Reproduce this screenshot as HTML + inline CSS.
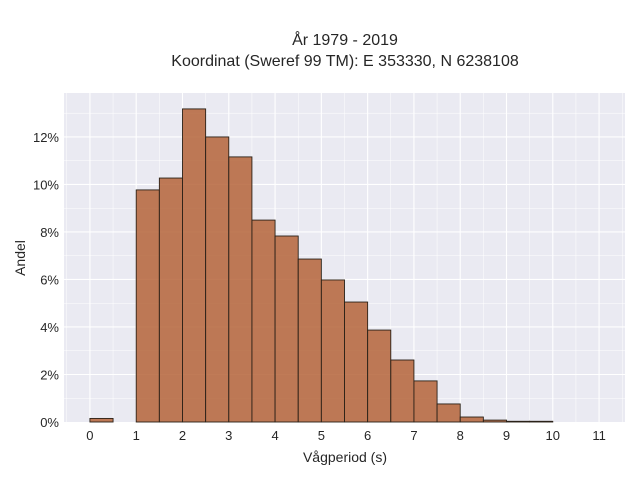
<!DOCTYPE html>
<html><head><meta charset="utf-8"><style>
body{margin:0;background:#fff;}
svg{display:block;font-family:"Liberation Sans",sans-serif;}
</style></head><body>
<svg id="chart" width="640" height="480" viewBox="0 0 640 480">
<rect width="640" height="480" fill="#fff"/>
<text x="345" y="45" text-anchor="middle" font-size="16" fill="#262626">År 1979 - 2019</text>
<text x="345" y="66" text-anchor="middle" font-size="16" fill="#262626">Koordinat (Sweref 99 TM): E 353330, N 6238108</text>
<rect x="64" y="93" width="561" height="329" fill="#eaeaf2"/>
<g id="grid"></g>
<g id="bars"></g>
<g id="ticks"></g>
<text x="345" y="462" text-anchor="middle" font-size="14" fill="#262626">Vågperiod (s)</text>
<text x="0" y="0" transform="translate(25,258) rotate(-90)" text-anchor="middle" font-size="14" fill="#262626">Andel</text>
</svg>
<script>
const binStarts=[0,1,1.5,2,2.5,3,3.5,4,4.5,5,5.5,6,6.5,7,7.5,8,8.5,9,9.5];
const shares=[0.15,9.77,10.27,13.18,12.0,11.16,8.5,7.83,6.86,5.98,5.05,3.87,2.61,1.73,0.76,0.21,0.08,0.03,0.03];
const binWidth=0.5;
const xTicks=[0,1,2,3,4,5,6,7,8,9,10,11];
const yTicks=[0,2,4,6,8,10,12];
const L=64,R=625,T=93,B=422;
const xMin=-0.56,xMax=11.56,yMin=0,yMax=13.85;
function xs(v){return L+(v-xMin)/(xMax-xMin)*(R-L);}
function ys(v){return B-(v-yMin)/(yMax-yMin)*(B-T);}
const NS="http://www.w3.org/2000/svg";
const grid=document.getElementById('grid'),bars=document.getElementById('bars'),ticks=document.getElementById('ticks');
function mk(tag,attrs,parent){const e=document.createElementNS(NS,tag);for(const k in attrs)e.setAttribute(k,attrs[k]);parent.appendChild(e);return e;}
for(let v=-0.5;v<=11.5;v+=0.5){
 const major=Number.isInteger(v);
 const g=mk('line',{x1:xs(v),x2:xs(v),y1:T,y2:B,stroke:'#fff','stroke-width':major?1.1:0.5},grid);
 
 
}
for(let v=1;v<=13;v+=1){
 const major=v%2===0;
 const g=mk('line',{x1:L,x2:R,y1:ys(v),y2:ys(v),stroke:'#fff','stroke-width':major?1.1:0.5},grid);
 
 
}
shares.forEach((s,i)=>{
 const x0=xs(binStarts[i]),x1=xs(binStarts[i]+binWidth);
 const r=mk('rect',{x:x0,y:ys(s),width:x1-x0,height:ys(0)-ys(s),fill:'#b5643a','fill-opacity':0.85,stroke:'#2a2118','stroke-width':0.9},bars);
 
 
});
xTicks.forEach(v=>{
 const t=mk('text',{x:xs(v),y:B+18,'text-anchor':'middle','font-size':13,fill:'#262626'},ticks);
 t.textContent=v;
 
 
});
yTicks.forEach(v=>{
 const t=mk('text',{x:L-5,y:ys(v)+5,'text-anchor':'end','font-size':13,fill:'#262626'},ticks);
 t.textContent=v+'%';
 
 
});
</script>
</body></html>
